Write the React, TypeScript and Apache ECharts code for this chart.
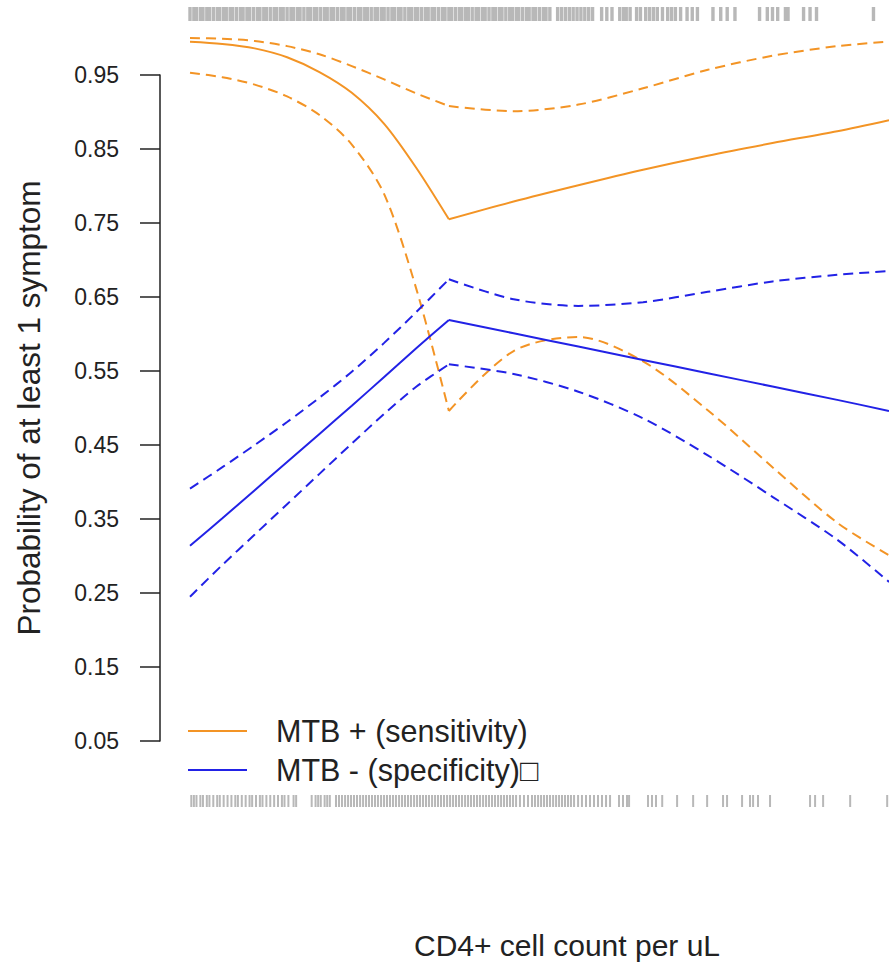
import React, { useEffect, useRef } from "react";
import * as echarts from "echarts";

// CD4+ cell count grid (knot at 200)
const xLeft = [0, 25, 50, 75, 100, 125, 150, 175, 200];
const xRight = [200, 250, 300, 350, 400, 450, 500, 540];

// MTB + (sensitivity): estimate and 95% band
const sensLeft = [0.995, 0.992, 0.986, 0.974, 0.954, 0.926, 0.884, 0.824, 0.755];
const sensRight = [0.755, 0.779, 0.801, 0.822, 0.841, 0.858, 0.874, 0.889];
const sensUpLeft = [1.0, 0.999, 0.996, 0.989, 0.978, 0.962, 0.944, 0.925, 0.908];
const sensUpRight = [0.908, 0.901, 0.91, 0.932, 0.957, 0.976, 0.989, 0.995];
const sensLoLeft = [0.953, 0.947, 0.937, 0.921, 0.896, 0.856, 0.789, 0.66, 0.496];
const sensLoRight = [0.496, 0.577, 0.596, 0.563, 0.497, 0.42, 0.345, 0.301];

// MTB - (specificity): estimate and 95% band
const specLeft = [0.314, 0.351, 0.389, 0.427, 0.465, 0.503, 0.542, 0.581, 0.619];
const specRight = [0.619, 0.601, 0.583, 0.565, 0.547, 0.529, 0.511, 0.496];
const specUpLeft = [0.391, 0.42, 0.45, 0.481, 0.514, 0.549, 0.588, 0.63, 0.674];
const specUpRight = [0.674, 0.647, 0.638, 0.643, 0.657, 0.671, 0.68, 0.685];
const specLoLeft = [0.245, 0.288, 0.329, 0.37, 0.411, 0.452, 0.492, 0.529, 0.559];
const specLoRight = [0.559, 0.546, 0.522, 0.486, 0.436, 0.38, 0.322, 0.265];

// Y tick labels
const yTicks = [0.05, 0.15, 0.25, 0.35, 0.45, 0.55, 0.65, 0.75, 0.85, 0.95];

// Rug: observed CD4 counts (top and bottom)
const topRug = [
  0, 3, 5, 8, 10, 13, 15, 18, 21, 23, 26, 28, 31, 33, 36, 39, 41, 44, 46, 49, 52, 54, 57, 59,
  62, 65, 67, 70, 72, 75, 78, 80, 83, 85, 88, 91, 93, 96, 98, 101, 104, 106, 109, 111, 114, 117,
  119, 122, 124, 127, 130, 132, 135, 137, 140, 143, 145, 148, 150, 153, 156, 158, 161, 163, 166,
  169, 171, 174, 176, 179, 182, 184, 187, 189, 192, 195, 197, 200, 202, 205, 208, 210, 213, 215,
  218, 221, 223, 226, 228, 231, 234, 236, 239, 241, 244, 247, 249, 252, 254, 257, 260, 262, 265,
  267, 270, 273, 275, 278, 284, 287, 290, 293, 296, 299, 302, 305, 308, 311, 318, 322, 326, 332,
  335, 337, 340, 345, 348, 352, 355, 358, 361, 365, 369, 372, 375, 379, 384, 388, 392, 404, 410,
  415, 421, 440, 446, 450, 454, 460, 462, 474, 479, 484, 528,
];
const bottomRug = [
  1, 3, 5, 8, 10, 13, 15, 18, 21, 23, 26, 29, 32, 35, 37, 40, 43, 46, 48, 51, 54, 56, 59, 62, 65,
  68, 71, 73, 76, 80, 82, 94, 97, 99, 101, 104, 106, 108, 112.8, 115.1, 117.4, 119.8, 122.1,
  124.4, 126.7, 129, 131.4, 133.7, 136, 138.3, 140.6, 142.9, 145.2, 147.6, 149.9, 152.2, 154.5,
  156.8, 159.1, 161.5, 163.8, 166.1, 168.4, 170.7, 173.1, 175.4, 177.7, 180, 182.3, 184.6, 187,
  189.3, 191.6, 193.9, 196.2, 198.6, 200.9, 203.2, 205.5, 207.8, 210.1, 212.5, 214.8, 217.1,
  219.4, 221.7, 224, 226.4, 228.7, 231, 233.3, 235.6, 238, 240.3, 242.6, 244.9, 247.2, 249.5,
  251.9, 254.9, 258, 261.1, 264.2, 266.5, 268.9, 271.2, 273.5, 275.8, 278.1, 280.5, 282.8, 285.1,
  287.4, 289.7, 292, 294.3, 296.7, 299.8, 302.8, 305.9, 309, 312.1, 315.2, 318.3, 321.4, 324.5,
  331.4, 334.5, 337.6, 339.2, 353.8, 356.9, 360, 364.8, 376.3, 388.7, 399.5, 411.8, 414.9, 426.5,
  432.6, 435, 438.8, 448.1, 479, 482.9, 489.1, 510, 538.6,
];

const ORANGE = "#F39425";
const BLUE = "#2222E6";
const FONT = '"Liberation Sans", Arial, sans-serif';

function lineSeries(xs: number[], ys: number[], color: string, dashed: boolean) {
  return {
    type: "line",
    data: xs.map((x, i) => [x, ys[i]]),
    showSymbol: false,
    symbol: "none",
    smooth: 0.3,
    clip: false,
    silent: true,
    lineStyle: { color, width: 2, type: dashed ? [10, 6] : "solid" },
  };
}

function rugSeries(values: number[], y1: number, y2: number, width: number) {
  return {
    type: "custom",
    silent: true,
    clip: false,
    data: values.map((v) => [v, 0.5]),
    renderItem: (_params: any, api: any) => {
      const x = api.coord([api.value(0), 0.5])[0];
      return {
        type: "line",
        shape: { x1: x, y1, x2: x, y2 },
        style: { stroke: "#b8b8b8", lineWidth: width },
      };
    },
  };
}

export default function App() {
  const ref = useRef<HTMLDivElement>(null);
  useEffect(() => {
    if (!ref.current) return;
    const chart = echarts.init(ref.current, null, { renderer: "svg" });
    chart.setOption({
      animation: false,
      backgroundColor: "#ffffff",
      textStyle: { fontFamily: FONT },
      grid: { left: 160, right: 0, top: 75, bottom: 223 },
      xAxis: { type: "value", min: -23.18, max: 540, show: false },
      yAxis: {
        type: "value",
        min: 0.05,
        max: 0.95,
        axisLine: { show: true, onZero: false, lineStyle: { color: "#222", width: 1.5 } },
        axisTick: {
          show: true,
          inside: false,
          length: 20,
          customValues: yTicks,
          lineStyle: { color: "#222", width: 1.5 },
        },
        axisLabel: {
          customValues: yTicks,
          formatter: (v: number) => v.toFixed(2),
          margin: 41,
          fontSize: 23,
          color: "#222",
          fontFamily: FONT,
        },
        splitLine: { show: false },
        name: "Probability of at least 1 symptom",
        nameLocation: "middle",
        nameGap: 115,
        nameTextStyle: { fontSize: 31.5, color: "#222", fontFamily: FONT },
      },
      series: [
        rugSeries(topRug, 7, 21, 3.4),
        rugSeries(bottomRug, 795, 807, 2),
        lineSeries(xLeft, sensUpLeft, ORANGE, true),
        lineSeries(xRight, sensUpRight, ORANGE, true),
        lineSeries(xLeft, sensLoLeft, ORANGE, true),
        lineSeries(xRight, sensLoRight, ORANGE, true),
        lineSeries(xLeft, specUpLeft, BLUE, true),
        lineSeries(xRight, specUpRight, BLUE, true),
        lineSeries(xLeft, specLoLeft, BLUE, true),
        lineSeries(xRight, specLoRight, BLUE, true),
        lineSeries(xLeft, sensLeft, ORANGE, false),
        lineSeries(xRight, sensRight, ORANGE, false),
        lineSeries(xLeft, specLeft, BLUE, false),
        lineSeries(xRight, specRight, BLUE, false),
      ],
      graphic: [
        {
          type: "line",
          shape: { x1: 188, y1: 731, x2: 247, y2: 731 },
          style: { stroke: ORANGE, lineWidth: 2 },
          silent: true,
        },
        {
          type: "line",
          shape: { x1: 188, y1: 770, x2: 247, y2: 770 },
          style: { stroke: BLUE, lineWidth: 2 },
          silent: true,
        },
        {
          type: "text",
          x: 276,
          y: 731,
          style: {
            text: "MTB + (sensitivity)",
            fontSize: 30.5,
            fontFamily: FONT,
            fill: "#222",
            textAlign: "left",
            textVerticalAlign: "middle",
          },
          silent: true,
        },
        {
          type: "text",
          x: 276,
          y: 770,
          style: {
            text: "MTB - (specificity)\u25A1",
            fontSize: 30.5,
            fontFamily: FONT,
            fill: "#222",
            textAlign: "left",
            textVerticalAlign: "middle",
          },
          silent: true,
        },
        {
          type: "text",
          x: 567,
          y: 945,
          style: {
            text: "CD4+ cell count per uL",
            fontSize: 30,
            fontFamily: FONT,
            fill: "#222",
            textAlign: "center",
            textVerticalAlign: "middle",
          },
          silent: true,
        },
      ],
    });
    return () => chart.dispose();
  }, []);
  return (
    <div
      ref={ref}
      style={{ position: "fixed", left: 0, top: 0, width: 889, height: 964, background: "#fff" }}
    />
  );
}
